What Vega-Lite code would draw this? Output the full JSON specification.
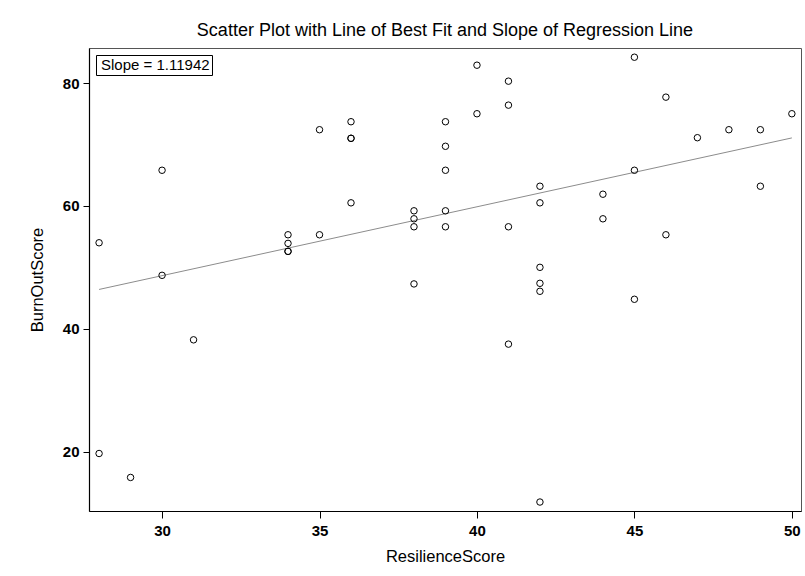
{
  "$schema": "https://vega.github.io/schema/vega-lite/v6.json",
  "autosize": {"type": "none"},
  "padding": {"left": 89, "top": 48, "right": 3, "bottom": 65},
  "width": 712,
  "height": 463,
  "background": "white",
  "title": {
    "text": "Scatter Plot with Line of Best Fit and Slope of Regression Line",
    "font": "Liberation Sans",
    "fontSize": 18,
    "fontWeight": "normal",
    "color": "black",
    "anchor": "middle",
    "offset": 8
  },
  "data": {
    "values": [
      {"ResilienceScore": 28, "BurnOutScore": 54.0},
      {"ResilienceScore": 28, "BurnOutScore": 19.7},
      {"ResilienceScore": 29, "BurnOutScore": 15.8},
      {"ResilienceScore": 30, "BurnOutScore": 65.8},
      {"ResilienceScore": 30, "BurnOutScore": 48.7},
      {"ResilienceScore": 31, "BurnOutScore": 38.2},
      {"ResilienceScore": 34, "BurnOutScore": 55.3},
      {"ResilienceScore": 34, "BurnOutScore": 53.9},
      {"ResilienceScore": 34, "BurnOutScore": 52.6},
      {"ResilienceScore": 34, "BurnOutScore": 52.6},
      {"ResilienceScore": 35, "BurnOutScore": 72.4},
      {"ResilienceScore": 35, "BurnOutScore": 55.3},
      {"ResilienceScore": 36, "BurnOutScore": 73.7},
      {"ResilienceScore": 36, "BurnOutScore": 71.0},
      {"ResilienceScore": 36, "BurnOutScore": 71.0},
      {"ResilienceScore": 36, "BurnOutScore": 60.5},
      {"ResilienceScore": 38, "BurnOutScore": 59.2},
      {"ResilienceScore": 38, "BurnOutScore": 57.9},
      {"ResilienceScore": 38, "BurnOutScore": 56.6},
      {"ResilienceScore": 38, "BurnOutScore": 47.3},
      {"ResilienceScore": 39, "BurnOutScore": 73.7},
      {"ResilienceScore": 39, "BurnOutScore": 69.7},
      {"ResilienceScore": 39, "BurnOutScore": 65.8},
      {"ResilienceScore": 39, "BurnOutScore": 59.2},
      {"ResilienceScore": 39, "BurnOutScore": 56.6},
      {"ResilienceScore": 40, "BurnOutScore": 82.9},
      {"ResilienceScore": 40, "BurnOutScore": 75.0},
      {"ResilienceScore": 41, "BurnOutScore": 80.3},
      {"ResilienceScore": 41, "BurnOutScore": 76.4},
      {"ResilienceScore": 41, "BurnOutScore": 56.6},
      {"ResilienceScore": 41, "BurnOutScore": 37.5},
      {"ResilienceScore": 42, "BurnOutScore": 63.2},
      {"ResilienceScore": 42, "BurnOutScore": 60.5},
      {"ResilienceScore": 42, "BurnOutScore": 50.0},
      {"ResilienceScore": 42, "BurnOutScore": 47.4},
      {"ResilienceScore": 42, "BurnOutScore": 46.1},
      {"ResilienceScore": 42, "BurnOutScore": 11.8},
      {"ResilienceScore": 44, "BurnOutScore": 61.9},
      {"ResilienceScore": 44, "BurnOutScore": 57.9},
      {"ResilienceScore": 45, "BurnOutScore": 84.2},
      {"ResilienceScore": 45, "BurnOutScore": 65.8},
      {"ResilienceScore": 45, "BurnOutScore": 44.8},
      {"ResilienceScore": 46, "BurnOutScore": 77.7},
      {"ResilienceScore": 46, "BurnOutScore": 55.3},
      {"ResilienceScore": 47, "BurnOutScore": 71.1},
      {"ResilienceScore": 48, "BurnOutScore": 72.4},
      {"ResilienceScore": 49, "BurnOutScore": 72.4},
      {"ResilienceScore": 49, "BurnOutScore": 63.2},
      {"ResilienceScore": 50, "BurnOutScore": 75.0}
    ]
  },
  "layer": [
    {
      "transform": [{"regression": "BurnOutScore", "on": "ResilienceScore"}],
      "mark": {"type": "line", "strokeWidth": 1, "clip": true},
      "encoding": {
        "x": {"field": "ResilienceScore", "type": "quantitative"},
        "y": {"field": "BurnOutScore", "type": "quantitative"},
        "color": {
          "datum": "Slope = 1.11942",
          "type": "nominal",
          "scale": {"range": ["#8c8c8c"]},
          "legend": {
            "title": null,
            "orient": "top-left",
            "offset": 7,
            "padding": 2,
            "strokeColor": "black",
            "fillColor": "white",
            "symbolSize": 0,
            "symbolStrokeWidth": 0,
            "symbolOpacity": 0,
            "labelOffset": -12,
            "labelFont": "Liberation Sans",
            "labelFontSize": 15,
            "labelColor": "black"
          }
        }
      }
    },
    {
      "mark": {"type": "point", "shape": "circle", "filled": false, "size": 42, "stroke": "black", "strokeWidth": 1, "opacity": 1},
      "encoding": {
        "x": {
          "field": "ResilienceScore",
          "type": "quantitative",
          "title": "ResilienceScore",
          "scale": {"domain": [27.68, 50.29], "nice": false, "zero": false},
          "axis": {"values": [30, 35, 40, 45, 50]}
        },
        "y": {
          "field": "BurnOutScore",
          "type": "quantitative",
          "title": "BurnOutScore",
          "scale": {"domain": [10.34, 85.7], "nice": false, "zero": false},
          "axis": {"values": [20, 40, 60, 80]}
        }
      }
    }
  ],
  "config": {
    "view": {"stroke": "#555555", "strokeWidth": 1},
    "axis": {
      "grid": false,
      "domainColor": "black",
      "domainWidth": 1.2,
      "tickColor": "black",
      "tickWidth": 1,
      "labelFont": "Liberation Sans",
      "labelFontWeight": "bold",
      "labelFontSize": 15,
      "labelColor": "black",
      "titleFont": "Liberation Sans",
      "titleFontWeight": "normal",
      "titleFontSize": 16.5,
      "titleColor": "black"
    },
    "axisX": {"tickSize": 7, "labelPadding": 5, "titlePadding": 10},
    "axisY": {"tickSize": 6, "labelPadding": 4, "titlePadding": 17}
  }
}
